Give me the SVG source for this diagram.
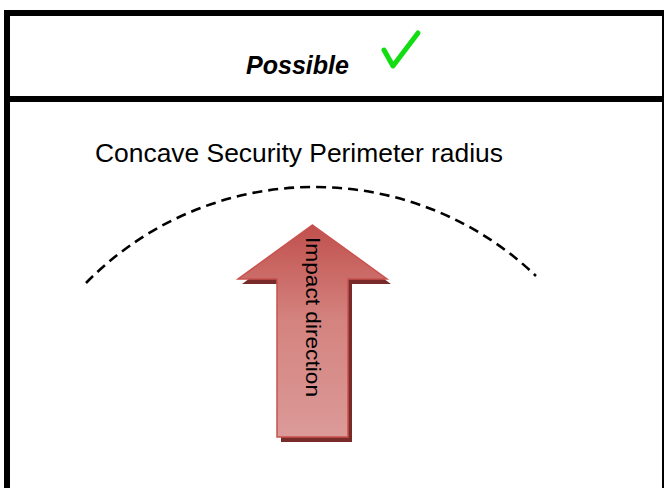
<svg xmlns="http://www.w3.org/2000/svg" width="664" height="488" viewBox="0 0 664 488">
  <style>
    .frame { fill: none; stroke: #000; stroke-width: 6; }
    .label { font-family: "Liberation Sans", Arial, sans-serif; fill: #000; }
    .arc { fill: none; stroke: #000; stroke-width: 2.6; stroke-dasharray: 10 6; }
  </style>
  <defs>
    <linearGradient id="arrowFill" x1="0" y1="0" x2="0" y2="1">
      <stop offset="0" stop-color="#c0504d"/>
      <stop offset="0.45" stop-color="#d4837f"/>
      <stop offset="1" stop-color="#db9a98"/>
    </linearGradient>
  </defs>
  <rect width="664" height="488" fill="#fff"/>
  <g id="frame">
    <rect class="frame" x="7" y="13" width="658" height="490"/>
    <line x1="4" y1="99" x2="668" y2="99" stroke="#000" stroke-width="6"/>
  </g>
  <g id="header">
    <text class="label" x="246" y="74" font-size="25" font-weight="bold" font-style="italic" textLength="103" lengthAdjust="spacingAndGlyphs">Possible</text>
    <path d="M384 50 L393 66 L418 33" fill="none" stroke="#11dd11" stroke-width="5" stroke-linecap="round" stroke-linejoin="round"/>
  </g>
  <g id="perimeter">
    <text class="label" x="95" y="162" font-size="26" textLength="408" lengthAdjust="spacingAndGlyphs">Concave Security Perimeter radius</text>
    <path class="arc" d="M86 283 A320 320 0 0 1 536 276"/>
  </g>
  <g id="impact-arrow">
    <polygon points="316.5,230 391,284 352,284 352,442 281,442 281,284 242,284" fill="#782b29"/>
    <polygon points="312.5,225 387,279 348,279 348,437 277,437 277,279 238,279" fill="url(#arrowFill)" stroke="#c9524f" stroke-width="1.5" stroke-linejoin="miter"/>
    <text class="label" transform="translate(306,237) rotate(90)" font-size="21" textLength="160" lengthAdjust="spacingAndGlyphs">Impact direction</text>
  </g>
</svg>
